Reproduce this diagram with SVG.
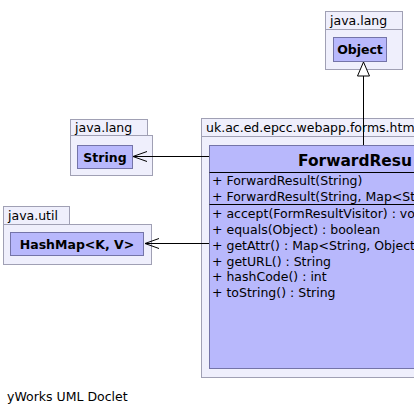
<svg xmlns="http://www.w3.org/2000/svg" width="414" height="415" viewBox="0 0 414 415">
<defs>
<style>
.pkg{fill:#efeffc;stroke:#a0a0b4;stroke-width:1}
.cls{fill:#b8b8fc;stroke:#7474a8;stroke-width:1}
.t{font-family:"DejaVu Sans",sans-serif;font-size:12.5px;fill:#000}
.b{font-family:"DejaVu Sans",sans-serif;font-size:12.5px;font-weight:bold;fill:#000}
.title{font-family:"DejaVu Sans",sans-serif;font-size:16px;font-weight:bold;fill:#000}
.ln{stroke:#000;stroke-width:1;fill:none}
</style>
<marker id="open" markerWidth="16" markerHeight="12" refX="15" refY="6" orient="auto" markerUnits="userSpaceOnUse">
<path d="M1,1 L15,6 L1,11" fill="none" stroke="#000" stroke-width="1"/>
</marker>
<marker id="tri" markerWidth="14" markerHeight="16" refX="7" refY="1" orient="0" markerUnits="userSpaceOnUse">
<path d="M7,1 L13,15 L1,15 Z" fill="#fff" stroke="#000" stroke-width="1"/>
</marker>
</defs>
<rect width="414" height="415" fill="#fff"/>
<g id="pkg-object">
<rect class="pkg" x="325.5" y="11.5" width="77" height="18"/>
<rect class="pkg" x="325.5" y="29.5" width="77" height="40"/>
<text class="t" x="330" y="25">java.lang</text>
<g id="node-object">
<rect class="cls" x="333.5" y="37.5" width="53" height="24"/>
<text class="b" x="360" y="54" text-anchor="middle">Object</text>
</g>
</g>
<g id="pkg-string">
<rect class="pkg" x="70.5" y="119.5" width="77" height="17"/>
<rect class="pkg" x="70.5" y="135.5" width="82" height="40"/>
<text class="t" x="75" y="132">java.lang</text>
<g id="node-string">
<rect class="cls" x="77.5" y="145.5" width="55" height="23"/>
<text class="b" x="105" y="161.5" text-anchor="middle">String</text>
</g>
</g>
<g id="pkg-util">
<rect class="pkg" x="3.5" y="206.5" width="66" height="18"/>
<rect class="pkg" x="3.5" y="224.5" width="148" height="40"/>
<text class="t" x="8" y="220">java.util</text>
<g id="node-hashmap">
<rect class="cls" x="10.5" y="232.5" width="133" height="23"/>
<text class="b" x="77" y="248.5" text-anchor="middle">HashMap&lt;K, V&gt;</text>
</g>
</g>
<g id="pkg-forms">
<rect class="pkg" x="201.5" y="118.5" width="230" height="18"/>
<rect class="pkg" x="201.5" y="136.5" width="230" height="241"/>
<text class="t" x="206" y="132">uk.ac.ed.epcc.webapp.forms.htm</text>
<g id="node-forwardresult">
<rect class="cls" x="209.5" y="145.5" width="230" height="223"/>
<line class="ln" x1="209.5" y1="172.5" x2="440" y2="172.5"/>
<line class="ln" x1="209.5" y1="204.5" x2="440" y2="204.5"/>
<text class="title" x="298" y="166" textLength="114" lengthAdjust="spacingAndGlyphs">ForwardResu</text>
<text class="t" x="212" y="185">+ ForwardResult(String)</text>
<text class="t" x="212" y="201">+ ForwardResult(String, Map&lt;St</text>
<text class="t" x="212" y="218">+ accept(FormResultVisitor) : vo</text>
<text class="t" x="212" y="234">+ equals(Object) : boolean</text>
<text class="t" x="212" y="250">+ getAttr() : Map&lt;String, Object</text>
<text class="t" x="212" y="266">+ getURL() : String</text>
<text class="t" x="212" y="281">+ hashCode() : int</text>
<text class="t" x="212" y="297">+ toString() : String</text>
</g>
</g>
<g id="connectors">
<line class="ln" x1="363.5" y1="145" x2="363.5" y2="62" marker-end="url(#tri)"/>
<line class="ln" x1="209" y1="156.5" x2="133" y2="156.5" marker-end="url(#open)"/>
<line class="ln" x1="209" y1="243.5" x2="145" y2="243.5" marker-end="url(#open)"/>
</g>
<text class="t" x="7" y="401">yWorks UML Doclet</text>
</svg>
